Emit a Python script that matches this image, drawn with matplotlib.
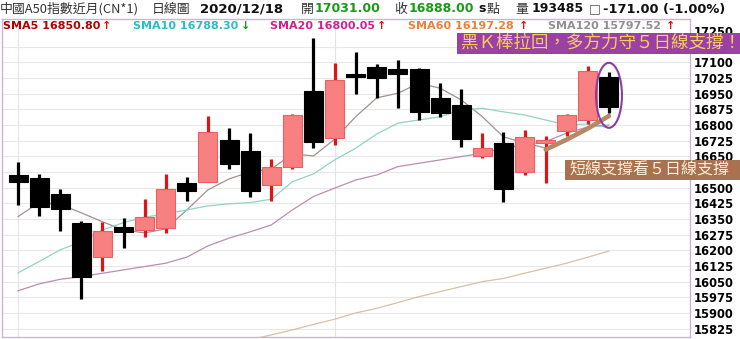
import matplotlib.pyplot as plt
from matplotlib.patches import Ellipse, Rectangle
import numpy as np

# daily candles
opens = [16561, 16546, 16470, 16330, 16168, 16311, 16298, 16309, 16522, 16529,
         16729, 16678, 16512, 16601, 16963, 16740, 17043, 17079, 17067, 17068,
         16931, 16896, 16652, 16713, 16577, 16716, 16773, 16824, 17031]
closes = [16528, 16410, 16397, 16075, 16295, 16287, 16359, 16494, 16485, 16766,
          16613, 16482, 16601, 16847, 16718, 17014, 17029, 17024, 17044, 16861,
          16859, 16732, 16689, 16493, 16742, 16729, 16848, 17059, 16888]
highs = [16624, 16566, 16493, 16341, 16335, 16354, 16448, 16566, 16550, 16845,
         16788, 16761, 16636, 16853, 17215, 17098, 17150, 17091, 17111, 17072,
         17003, 16971, 16764, 16768, 16777, 16748, 16852, 17083, 17055]
lows = [16418, 16365, 16295, 15967, 16104, 16214, 16265, 16282, 16437, 16525,
        16589, 16455, 16437, 16591, 16689, 16705, 16949, 16928, 16883, 16824,
        16837, 16694, 16641, 16434, 16561, 16522, 16749, 16805, 16856]

sma5 = [16362, 16429, 16420, 16380, 16337, 16298, 16284, 16303, 16394, 16490,
        16542, 16576, 16589, 16662, 16652, 16732, 16840, 16930, 16952, 17000,
        16976, 16920, 16840, 16743, 16714, 16690, 16738, 16791, 16851]
sma10 = [16093, 16147, 16203, 16242, 16298, 16333, 16359, 16375, 16394, 16413,
         16423, 16429, 16445, 16529, 16566, 16633, 16689, 16757, 16809, 16824,
         16840, 16872, 16880, 16863, 16848, 16824, 16800, 16805, 16788]
sma20 = [16007, 16040, 16062, 16075, 16091, 16107, 16123, 16139, 16168, 16222,
         16259, 16289, 16322, 16394, 16458, 16498, 16537, 16561, 16601, 16617,
         16633, 16649, 16665, 16689, 16705, 16721, 16761, 16791, 16800]
sma60 = [np.nan] * 11 + [15773, 15796, 15820, 15846, 15871, 15901, 15923, 15951,
                         15979, 16003, 16027, 16051, 16066, 16091, 16115, 16139,
                         16168, 16197]

yticks = list(range(17250, 15824, -75))
# these two labels sit under the note boxes in the picture
hidden_ticks = [17175, 16575]

W, H = 740, 339
fig = plt.figure(figsize=(W / 100, H / 100), dpi=100)
ax = fig.add_axes([2 / W, 1 - 337 / H, 688 / W, 318 / H])

x = np.arange(len(closes))

# grid
ax.hlines(yticks[1:], -1, 40, color='#e8e8e8', lw=0.8, zorder=0)
ax.vlines([0, 15], 15000, 18000, color='#e2e4ec', lw=0.8, zorder=0)

# moving averages
ax.plot(x, sma5, color='#a39090', lw=0.9, zorder=2)
ax.plot(x, sma10, color='#8fd3c6', lw=0.9, zorder=2)
ax.plot(x, sma20, color='#b88fb0', lw=0.9, zorder=2)
ax.plot(x, sma60, color='#d8c0a8', lw=0.9, zorder=2)

# candles
for i in x:
    o, c = opens[i], closes[i]
    if c >= o:
        wc, fc, ec = '#dd1515', '#f88080', '#e86060'
    else:
        wc, fc, ec = 'black', 'black', 'black'
    ax.vlines(i, lows[i], highs[i], color=wc, lw=2.3, zorder=3)
    h = max(abs(c - o), 8)
    ax.bar(i, h, bottom=min(o, c) - (h - abs(c - o)) / 2, width=0.9,
           color=fc, edgecolor=ec, lw=0.8, zorder=4)

# hand-drawn notes
ax.plot(x[25:], np.array(sma5[25:]) - 8, color='#b88863', lw=3.2,
        solid_capstyle='round', zorder=6)
ax.add_patch(Ellipse((28, 16942), 1.23, 311, fill=False, ec='#8a3fa0', lw=1.5, zorder=7))

ax.set_xlim(-0.76, 31.84)
ax.set_ylim(15786, 17307)
ax.set_xticks([])
ax.yaxis.tick_right()
ax.set_yticks(yticks)
ax.set_yticklabels(['' if v in hidden_ticks else str(v) for v in yticks],
                   fontsize=8.3, fontweight='bold')
ax.tick_params(axis='y', length=0, pad=3)
for s in ax.spines.values():
    s.set_color('#c8b4dc')
    s.set_linewidth(1)


def ft(xp, yp, s, **kw):
    kw.setdefault('va', 'center')
    fig.text(xp / W, 1 - yp / H, s, **kw)


cjk = ['Noto Sans CJK TC', 'DejaVu Sans']

# header line
ft(0, 9, '中國A50指數近月(CN*1)', family=cjk, fontsize=9.3, color='#333333')
ft(152, 9, '日線圖', family=cjk, fontsize=9.3, color='#333333')
ft(200, 9, '2020/12/18', fontsize=9.5, fontweight='bold', color='#111111')
ft(301, 9, '開', family=cjk, fontsize=9.3, color='#333333')
ft(315, 9, '17031.00', fontsize=9, fontweight='bold', color='#1a9a1a')
ft(394, 9, '收', family=cjk, fontsize=9.3, color='#333333')
ft(409, 9, '16888.00', fontsize=9, fontweight='bold', color='#1a9a1a')
ft(478, 9, 's', fontsize=9, fontweight='bold', color='#111111')
ft(487, 9, '點', family=cjk, fontsize=9.3, color='#333333')
ft(515, 9, '量', family=cjk, fontsize=9.3, color='#333333')
ft(532, 9, '193485', fontsize=9, fontweight='bold', color='#111111')
ft(589, 9, '□', fontsize=9, color='#555555')
ft(603, 9, '-171.00 (-1.00%)', fontsize=9.4, fontweight='bold', color='#111111')

# moving average legend row
sma_labels = ['SMA5 16850.80', 'SMA10 16788.30', 'SMA20 16800.05',
              'SMA60 16197.28', 'SMA120 15797.52']
sma_colors = ['#b00000', '#2cbcc4', '#d4208e', '#ee7f3a', '#909090']
sma_x = [3, 133, 270, 408, 548]
arrow_x = [102, 241, 377, 519, 666]
arrows = ['↑', '↓', '↑', '↑', '↑']
arrow_colors = ['#e01010', '#1a9a1a', '#e01010', '#e01010', '#e01010']
for lab, col, xp, axp, ar, ac in zip(sma_labels, sma_colors, sma_x, arrow_x,
                                     arrows, arrow_colors):
    ft(xp, 26, lab, fontsize=8, fontweight='bold', color=col)
    ft(axp, 26, ar, fontsize=8, fontweight='bold', color=ac)

# annotation boxes
fig.add_artist(Rectangle((457 / W, 1 - 53.5 / H), 283 / W, 21 / H,
                         transform=fig.transFigure, fc='#9b41a6', ec='none', zorder=10))
ft(461, 43, '黑Ｋ棒拉回，多方力守５日線支撐！', family=cjk, fontsize=12.6,
   color='#f7cf57', zorder=11)
fig.add_artist(Rectangle((565 / W, 1 - 180 / H), 175 / W, 20 / H,
                         transform=fig.transFigure, fc='#a8714f', ec='none', zorder=10))
ft(569, 170, '短線支撐看５日線支撐', family=cjk, fontsize=11.5,
   color='#fcf0dc', zorder=11)

fig.savefig('out.png', dpi=100)
